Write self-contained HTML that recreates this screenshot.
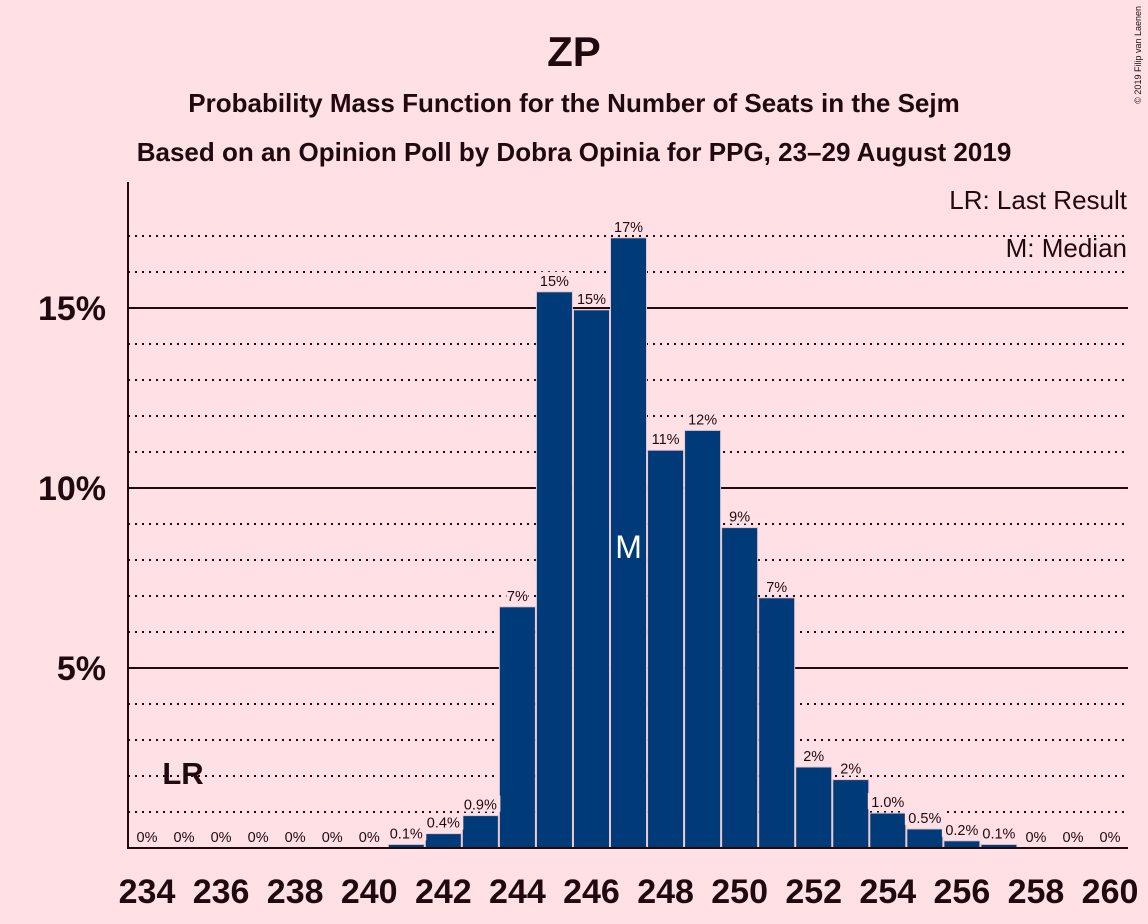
<!DOCTYPE html>
<html><head><meta charset="utf-8"><style>
html,body{margin:0;padding:0;background:#FFE0E5;}
svg{display:block;font-family:"Liberation Sans",sans-serif;}
</style></head><body>
<svg id="chart" width="1148" height="924" viewBox="0 0 1148 924">
<rect width="1148" height="924" fill="#FFE0E5"/>
<text x="574" y="66" text-anchor="middle" font-size="42" font-weight="bold" fill="#1F0A10">ZP</text>
<text x="574" y="112" text-anchor="middle" font-size="26" font-weight="bold" fill="#1F0A10">Probability Mass Function for the Number of Seats in the Sejm</text>
<text x="574" y="161" text-anchor="middle" font-size="26" font-weight="bold" fill="#1F0A10">Based on an Opinion Poll by Dobra Opinia for PPG, 23–29 August 2019</text>
<text x="1141" y="6" font-size="9" fill="#1F0A10" transform="rotate(-90 1141 6)" text-anchor="end">© 2019 Filip van Laenen</text>
<g id="grid"></g>
<g id="bars"></g>
<g id="labels"></g>
<g id="axes"></g>
<text x="1127" y="209" text-anchor="end" font-size="26" fill="#1F0A10">LR: Last Result</text>
<text x="1127" y="257" text-anchor="end" font-size="26" fill="#1F0A10">M: Median</text>
</svg>
<script>
const seats=[234,235,236,237,238,239,240,241,242,243,244,245,246,247,248,249,250,251,252,253,254,255,256,257,258,259,260];
const probs=[0,0,0,0,0,0,0,0.1,0.4,0.9,6.7,15.45,14.95,16.95,11.05,11.6,8.9,6.95,2.25,1.9,0.97,0.53,0.2,0.1,0,0,0];
const valueLabels=["0%","0%","0%","0%","0%","0%","0%","0.1%","0.4%","0.9%","7%","15%","15%","17%","11%","12%","9%","7%","2%","2%","1.0%","0.5%","0.2%","0.1%","0%","0%","0%"];
const xTicks=[234,236,238,240,242,244,246,248,250,252,254,256,258,260];
const yTicks=[5,10,15];
const lastResult=235;
const median=247;
const NS="http://www.w3.org/2000/svg";
const x=s=>147+(s-234)*37.04;
const y=v=>848-v*36;
const bw=36;
function mk(t,a,p){const e=document.createElementNS(NS,t);for(const k in a)e.setAttribute(k,a[k]);p.appendChild(e);return e;}
const grid=document.getElementById('grid'),bars=document.getElementById('bars'),labels=document.getElementById('labels'),axes=document.getElementById('axes');
for(let v=1;v<=17;v++){
  const major=v%5===0;
  const l=mk('line',{x1:128,x2:1128,y1:y(v),y2:y(v),stroke:'#1F0A10','stroke-width':2,'stroke-dasharray':major?'':'2,5'},grid);
  
  
}
seats.forEach((s,i)=>{
  const p=probs[i];
  if(p>0){
    const r=mk('rect',{x:x(s)-bw/2,y:y(p),width:bw,height:848-y(p),fill:'#003A78',stroke:'#E8C8D0','stroke-width':1},bars);
    
    
  }
  const tw=valueLabels[i].length*9+4;
  const bg=mk('rect',{x:x(s)-tw/2,y:y(p)-20,width:tw,height:16,fill:'#FFE0E5'},labels);
  
  
  const t=mk('text',{x:x(s),y:y(p)-6,'text-anchor':'middle','font-size':14.5,fill:'#1F0A10'},labels);
  t.textContent=valueLabels[i];
  
  
  if(s===median){
    const m=mk('text',{x:x(s),y:558,'text-anchor':'middle','font-size':32,fill:'#FFFFFF'},labels);
    m.textContent='M';
    
    
  }
  if(s===lastResult){
    const lr=mk('text',{x:x(s)-1,y:784,'text-anchor':'middle','font-size':31,'font-weight':'bold',fill:'#1F0A10'},labels);
    lr.textContent='LR';
    
    
  }
});
const ya=mk('line',{x1:128,x2:128,y1:182,y2:849,stroke:'#1F0A10','stroke-width':2},axes);


const xa=mk('line',{x1:127,x2:1128,y1:848,y2:848,stroke:'#1F0A10','stroke-width':2},axes);


yTicks.forEach(v=>{
  const t=mk('text',{x:106,y:y(v)+12,'text-anchor':'end','font-size':34,'font-weight':'bold',fill:'#1F0A10'},axes);
  t.textContent=v+'%';
  
  
});
xTicks.forEach(s=>{
  const t=mk('text',{x:x(s),y:903,'text-anchor':'middle','font-size':34,'font-weight':'bold',fill:'#1F0A10'},axes);
  t.textContent=s;
  
  
});
</script>
</body></html>
